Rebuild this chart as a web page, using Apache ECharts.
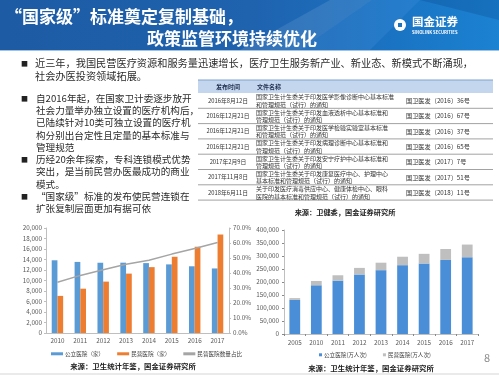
<!DOCTYPE html>
<html><head><meta charset="utf-8">
<script src="https://cdn.jsdelivr.net/npm/echarts@6/dist/echarts.min.js"></script>
<style>html,body{margin:0;padding:0;background:#fff}#c{width:499px;height:376px}</style>
</head><body><div id="c"></div>
<script>
// ---- data ----
const years1 = ['2010','2011','2012','2013','2014','2015','2016','2017'];
const publicHospitals = [13850,13539,13384,13396,13314,13069,12708,12297];
const privateHospitals = [7068,8440,9786,11313,12546,14518,16432,18759];
const privateShare = [33.8,38.4,42.2,45.8,48.5,52.6,56.4,60.4];
const years2 = ['2005','2010','2011','2012','2013','2014','2015','2016','2017'];
const publicVisits = [131000,187400,205300,228900,245500,264700,271200,284800,295200];
const privateVisits = [7000,16600,20600,25300,28700,32500,37100,42200,48800];

const titleLines = ['“国家级”标准奠定复制基础，','政策监管环境持续优化'];
const bullet1Lines = ['近三年，我国民营医疗资源和服务量迅速增长，医疗卫生服务新产业、新业态、新模式不断涌现，','社会办医投资领域拓展。'];
const leftLines = ['自2016年起，在国家卫计委逐步放开','社会力量举办独立设置的医疗机构后，','已陆续针对10类可独立设置的医疗机','构分别出台定性且定量的基本标准与','管理规范','历经20余年探索，专科连锁模式优势','突出，是当前民营办医最成功的商业','模式。','“国家级”标准的发布使民营连锁在','扩张复制层面更加有据可依'];
const bulletRows = [0,5,8];
const tableHeader = ['发布时间','文件名称'];
const tableDates = ['2016年8月12日','2016年12月21日','2016年12月21日','2016年12月21日','2017年2月9日','2017年11月8日','2018年6月11日'];
const tableTitles = [
 ['国家卫生计生委关于印发医学影像诊断中心基本标准','和管理规范（试行）的通知'],
 ['国家卫生计生委关于印发血液透析中心基本标准和','管理规范（试行）的通知'],
 ['国家卫生计生委关于印发医学检验实验室基本标准','和管理规范（试行）的通知'],
 ['国家卫生计生委关于印发病理诊断中心基本标准和','管理规范（试行）的通知'],
 ['国家卫生计生委关于印发安宁疗护中心基本标准和','管理规范（试行）的通知'],
 ['国家卫生计生委关于印发康复医疗中心、护理中心','基本标准和管理规范（试行）的通知'],
 ['关于印发医疗消毒供应中心、健康体检中心、眼科','医院的基本标准和管理规范（试行）的通知']];
const tableNumbers = ['国卫医发〔2016〕36号','国卫医发〔2016〕67号','国卫医发〔2016〕37号','国卫医发〔2016〕65号','国卫医发〔2017〕7号','国卫医发〔2017〕51号','国卫医发〔2018〕11号'];
const sourceTable = '来源：卫健委，国金证券研究所';
const sourceChart = '来源：卫生统计年鉴，国金证券研究所';
const legend1 = ['公立医院（家）','民营医院（家）','民营医院数量占比'];
const legend2 = ['公立医院(万人次)','民营医院(万人次)'];

// ---- drawing ----
const F = '"Noto Sans CJK SC", "Noto Sans", sans-serif';
const g = [];
function txt(x,y,t,size,fill,opt){
  opt = opt||{};
  g.push({type:'text',x:x,y:y,z:5,style:{text:t,fill:fill,font:(opt.weight||'normal')+' '+size+'px '+F,textAlign:opt.align||'left',textVerticalAlign:'middle'}});
}
// banner
g.push({type:'rect',z:1,shape:{x:0,y:0,width:499,height:50},style:{fill:new echarts.graphic.LinearGradient(0,0,1,0,[{offset:0,color:'#1d5ba4'},{offset:0.5,color:'#1f62ae'},{offset:0.8,color:'#1a74c4'},{offset:1,color:'#1c82d2'}])}});
g.push({type:'polygon',z:2,shape:{points:[[240,50],[330,0],[372,0],[300,50]]},style:{fill:'rgba(255,255,255,0.10)'}});
g.push({type:'polygon',z:2,shape:{points:[[300,50],[372,0],[420,0],[370,50]]},style:{fill:'rgba(120,190,255,0.12)'}});
g.push({type:'polygon',z:2,shape:{points:[[420,0],[499,0],[499,20]]},style:{fill:'rgba(0,40,100,0.18)'}});
g.push({type:'rect',z:2,shape:{x:0,y:50,width:499,height:1},style:{fill:'#9ec3e6'}});
txt(5,17,titleLines[0],17,'#ffffff',{weight:'bold'});
txt(147,39,titleLines[1],17,'#ffffff',{weight:'bold'});
// logo
g.push({type:'circle',z:5,shape:{cx:400,cy:25,r:6},style:{fill:'#ffffff'}});
g.push({type:'rect',z:6,shape:{x:398,y:23,width:4,height:4},style:{fill:'#1a74c4'}});
txt(412,22,'国金证券',11.5,'#ffffff',{weight:'bold'});
txt(412,32,'SINOLINK SECURITIES',4.2,'#ffffff',{weight:'bold'});
// top bullet
txt(21,63,'■',7,'#222');
txt(35,63,bullet1Lines[0],10.2,'#2b2b2b');
txt(35,76,bullet1Lines[1],10.2,'#2b2b2b');
// left text
leftLines.forEach((l,i)=>{
  const y = 98 + i*12.3;
  if (bulletRows.indexOf(i)>=0) txt(21,y,'■',7,'#222');
  txt(36,y,l,9.6,'#2b2b2b');
});
// table
const tX0=198, tX1=493, hTop=80, hH=13, rowH=15.3;
g.push({type:'rect',z:3,shape:{x:tX0,y:hTop,width:tX1-tX0,height:hH},style:{fill:'#c3d6ee'}});
g.push({type:'line',z:4,shape:{x1:tX0,y1:hTop,x2:tX1,y2:hTop},style:{stroke:'#7fa3cf',lineWidth:1}});
txt(228,hTop+hH/2,tableHeader[0],6,'#1f2f4f',{align:'center',weight:'bold'});
txt(257,hTop+hH/2,tableHeader[1],6,'#1f2f4f',{weight:'bold'});
tableDates.forEach((d,i)=>{
  const top = hTop+hH+i*rowH, cy = top+rowH/2;
  txt(228,cy,d,5.8,'#333',{align:'center'});
  txt(256,cy-3.6,tableTitles[i][0],6.0,'#333');
  txt(256,cy+3.8,tableTitles[i][1],6.0,'#333');
  txt(406,cy,tableNumbers[i],6.2,'#333');
  g.push({type:'line',z:4,shape:{x1:tX0,y1:top+rowH,x2:tX1,y2:top+rowH},style:{stroke:'#8a8a8a',lineWidth:0.8}});
});
txt(345,212,sourceTable,7.2,'#222',{align:'center',weight:'bold'});
// chart sources
txt(133,366,sourceChart,7.4,'#222',{align:'center',weight:'bold'});
txt(371,368,sourceChart,7.4,'#222',{align:'center',weight:'bold'});
txt(487,358,'8',11,'#8c8c8c',{align:'center'});
g.push({type:'line',z:4,shape:{x1:0,y1:374,x2:499,y2:374},style:{stroke:'#d5d5d5',lineWidth:1}});

const axLbl = {fontSize:6.3,color:'#595959',fontFamily:F};
const axLine = {show:true,lineStyle:{color:'#bfbfbf',width:1}};
const option = {
  animation:false,
  backgroundColor:'#ffffff',
  grid:[
    {left:46,right:270,top:228,bottom:43},
    {left:284,right:21,top:230,bottom:42}
  ],
  xAxis:[
    {type:'category',gridIndex:0,data:years1,axisLine:axLine,axisTick:{show:false},axisLabel:Object.assign({margin:4},axLbl)},
    {type:'category',gridIndex:1,data:years2,axisLine:axLine,axisTick:{show:true,length:2,lineStyle:{color:'#888'}},axisLabel:Object.assign({margin:5},axLbl)}
  ],
  yAxis:[
    {type:'value',gridIndex:0,min:0,max:20000,interval:2000,axisLine:axLine,axisTick:{show:true,length:2,lineStyle:{color:'#bfbfbf'}},splitLine:{show:false},axisLabel:Object.assign({margin:4},axLbl)},
    {type:'value',gridIndex:0,position:'right',min:0,max:70,interval:10,axisLine:axLine,axisTick:{show:true,length:2,lineStyle:{color:'#bfbfbf'}},splitLine:{show:false},axisLabel:Object.assign({margin:4,formatter:v=>v.toFixed(1)+'%'},axLbl)},
    {type:'value',gridIndex:1,min:0,max:400000,interval:50000,axisLine:axLine,axisTick:{show:true,length:2,lineStyle:{color:'#888'}},splitLine:{show:false},axisLabel:Object.assign({margin:5},axLbl)}
  ],
  legend:[
    {data:legend1,left:46,top:346,icon:'rect',itemWidth:12,itemHeight:3,itemGap:13,textStyle:{fontSize:5.6,color:'#404040',fontFamily:F,padding:[0,0,0,-3]}},
    {data:legend2,left:314,top:347,icon:'rect',itemWidth:3,itemHeight:3,itemGap:16,textStyle:{fontSize:5.6,color:'#404040',fontFamily:F,padding:[0,0,0,-3]}}
  ],
  series:[
    {name:legend1[0],type:'bar',xAxisIndex:0,yAxisIndex:0,data:publicHospitals,itemStyle:{color:'#5b9bd5'},barGap:'0%',barCategoryGap:'50%'},
    {name:legend1[1],type:'bar',xAxisIndex:0,yAxisIndex:0,data:privateHospitals,itemStyle:{color:'#ed7d31'},barGap:'0%',barCategoryGap:'50%'},
    {name:legend1[2],type:'line',xAxisIndex:0,yAxisIndex:1,data:privateShare,symbol:'none',lineStyle:{color:'#a5a5a5',width:1.5},itemStyle:{color:'#a5a5a5'}},
    {name:legend2[0],type:'bar',xAxisIndex:1,yAxisIndex:2,stack:'v',data:publicVisits,itemStyle:{color:'#4a8ed8'},barCategoryGap:'50%'},
    {name:legend2[1],type:'bar',xAxisIndex:1,yAxisIndex:2,stack:'v',data:privateVisits,itemStyle:{color:'#bfbfbf'},barCategoryGap:'50%'}
  ],
  graphic:g
};
const chart = echarts.init(document.getElementById('c'),null,{renderer:'canvas'});
chart.setOption(option);
</script></body></html>
